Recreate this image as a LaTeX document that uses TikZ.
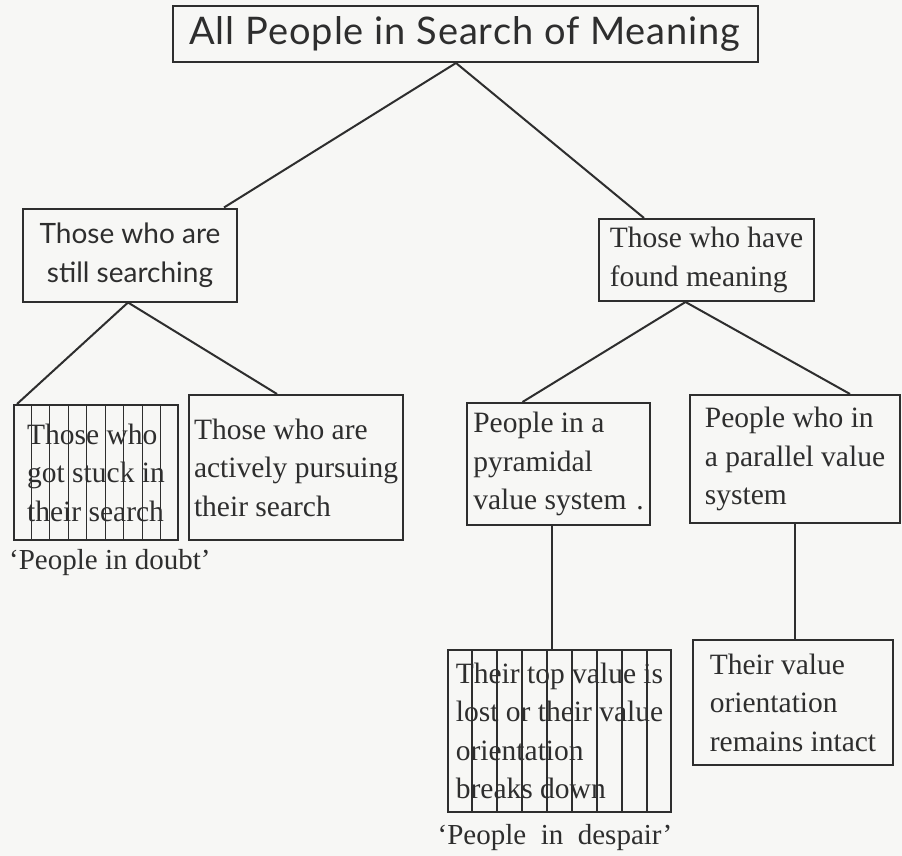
\documentclass[tikz,border=0pt]{standalone}
\usepackage{fontspec}
\setmainfont{Liberation Serif}
\newfontfamily\titlefont[LetterSpace=2.5]{Lato}
\newfontfamily\sansfont{Lato}
\usetikzlibrary{calc}
\definecolor{ink}{HTML}{2E2E2E}
\definecolor{paper}{HTML}{F7F7F5}
\tikzset{
  box/.style={draw=ink, line width=2pt, text=ink, align=left, inner sep=0pt,
    font=\fontsize{29.5}{38.5}\selectfont},
  lbl/.style={text=ink, inner sep=0pt, font=\fontsize{29}{38}\selectfont},
  link/.style={draw=ink, line width=2pt},
  hatch/.style={draw=ink, line width=1.2pt}
}
\begin{document}
\begin{tikzpicture}[x=1pt,y=-1pt]
\path[fill=paper] (0,0) rectangle (902,856);
\useasboundingbox (0,0) rectangle (902,856);

\node[box, minimum width=585pt, minimum height=56pt, font=\titlefont\fontsize{38}{44}\selectfont] (title) at (465,34) {All People in Search of Meaning};

\node[box, align=center, minimum width=214pt, minimum height=93pt, font=\sansfont\fontsize{28}{39}\selectfont] (still) at (130,255) {Those who are\\still searching};
\node[box, minimum width=215pt, minimum height=82pt] (found) at (706.5,260) {Those who have\\found meaning};

\node[box, minimum width=164pt, minimum height=135pt] (stuck) at (96,472.5) {Those who\\got stuck in\\their search};
\node[box, minimum width=214pt, minimum height=145pt] (active) at (296,467.5) {Those who are\\actively pursuing\\their search};
\node[box, minimum width=183pt, minimum height=122pt] (pyr) at (558.5,464) {People in a\\pyramidal\\value system\,\,.};
\node[box, minimum width=210pt, minimum height=128pt] (par) at (795,459) {People who in\\a parallel value\\system};

\node[box, minimum width=223pt, minimum height=162pt] (lost) at (559.5,731) {Their top value is\\lost or their value\\orientation\\breaks down};
\node[box, minimum width=200pt, minimum height=125pt] (intact) at (793,702.5) {Their value\\orientation\\remains intact};

\node[lbl, anchor=west] (doubt) at (9,563) {‘People in doubt’};
\node[lbl] (despair) at (555,838) {‘People\ \ in\ \ despair’};

% hatching
\foreach \i in {1,...,8} {
  \draw[hatch] ($(stuck.north west)!\i/9!(stuck.north east)$) -- ($(stuck.south west)!\i/9!(stuck.south east)$);
  \draw[hatch] ($(lost.north west)!\i/9!(lost.north east)$) -- ($(lost.south west)!\i/9!(lost.south east)$);
}

% connectors
\coordinate (tA) at ([xshift=-9pt]title.south);
\draw[link] ([xshift=-14pt]still.north east) -- (tA) -- ([xshift=46pt]found.north west);
\coordinate (sA) at ([xshift=-2pt]still.south);
\draw[link] ([xshift=4pt]stuck.north west) -- (sA) -- ([xshift=-19pt]active.north);
\coordinate (fA) at ([xshift=-21pt]found.south);
\draw[link] ([xshift=-36pt]pyr.north) -- (fA) -- ([xshift=55pt]par.north);
\coordinate (pA) at ([xshift=-7pt]pyr.south);
\draw[link] (pA) -- (pA |- lost.north);
\draw[link] (par.south) -- (par.south |- intact.north);
\end{tikzpicture}
\end{document}
